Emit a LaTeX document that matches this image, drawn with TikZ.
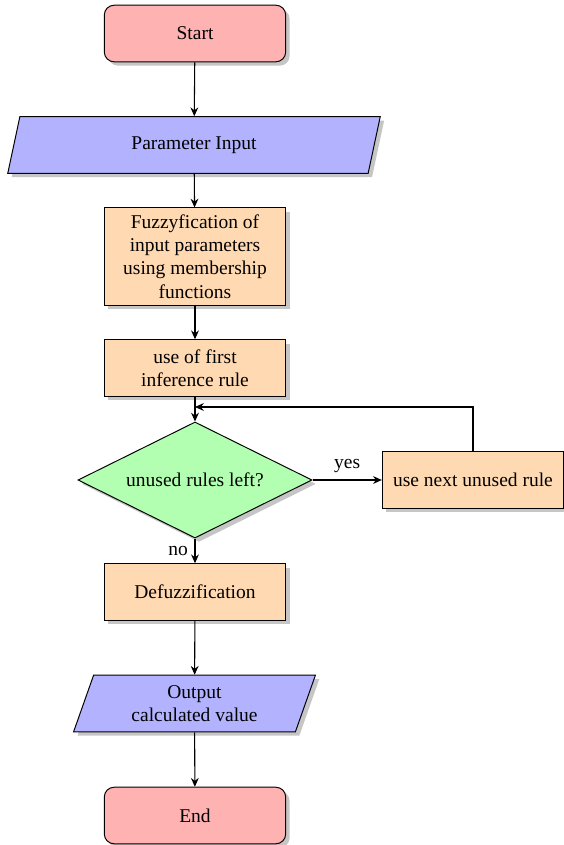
\documentclass[tikz,border=0pt]{standalone}
\usepackage{fontspec}
\setmainfont{Liberation Serif}
\usetikzlibrary{shapes.geometric,shadows,arrows.meta}
\tikzset{
  base/.style={draw, line width=0.5pt, drop shadow={opacity=0.45,shadow xshift=2pt,shadow yshift=-2pt}, align=center, font=\fontsize{10pt}{12pt}\selectfont},
  termbox/.style={base, rectangle, rounded corners=5pt, fill=red!30, minimum width=93pt, minimum height=29pt},
  iobox/.style={base, trapezium, trapezium left angle=68, trapezium right angle=112, fill=blue!30, minimum height=29pt, trapezium stretches body},
  procbox/.style={base, rectangle, fill=orange!30, minimum width=93pt, minimum height=29pt},
  decbox/.style={base, diamond, aspect=2, fill=green!30, minimum width=120pt, minimum height=59.5pt, inner sep=0pt},
  arr/.style={-{Stealth[length=4.5pt,width=4pt]}, line width=0.55pt},
  lbl/.style={font=\fontsize{10pt}{12pt}\selectfont}
}
\begin{document}
\begin{tikzpicture}[x=0.5128pt,y=-0.5128pt]
\useasboundingbox (0,0) rectangle (563,845);
\node[termbox] (start) at (195,33.5) {Start};
\node[iobox, minimum width=191pt] (param) at (194,145) {Parameter Input};
\node[procbox, minimum height=49.7pt] (fuzzy) at (195,256.5) {Fuzzyfication of\\input parameters\\using membership\\functions};
\node[procbox] (first) at (195,368) {use of first\\inference rule};
\node[decbox] (dec) at (195,480) {unused rules left?};
\node[procbox] (next) at (473,480) {use next unused rule};
\node[procbox] (defuzz) at (195,592) {Defuzzification};
\node[iobox, minimum width=124pt] (out) at (194.5,703.5) {Output\\calculated value};
\node[termbox] (end) at (195,815.5) {End};
\coordinate (loop) at (195,407);
\draw[arr] (start) -- (param);
\draw[arr] (param) -- (fuzzy);
\draw[arr] (fuzzy) -- (first);
\draw[arr] (first) -- (dec);
\draw[arr] (dec) -- node[lbl, above] {yes} (next);
\draw[arr] (next.north) |- (loop);
\draw[arr] (dec) -- node[lbl, pos=0.5, left] {no} (defuzz);
\draw[arr] (defuzz) -- (out);
\draw[arr] (out) -- (end);
\end{tikzpicture}
\end{document}
